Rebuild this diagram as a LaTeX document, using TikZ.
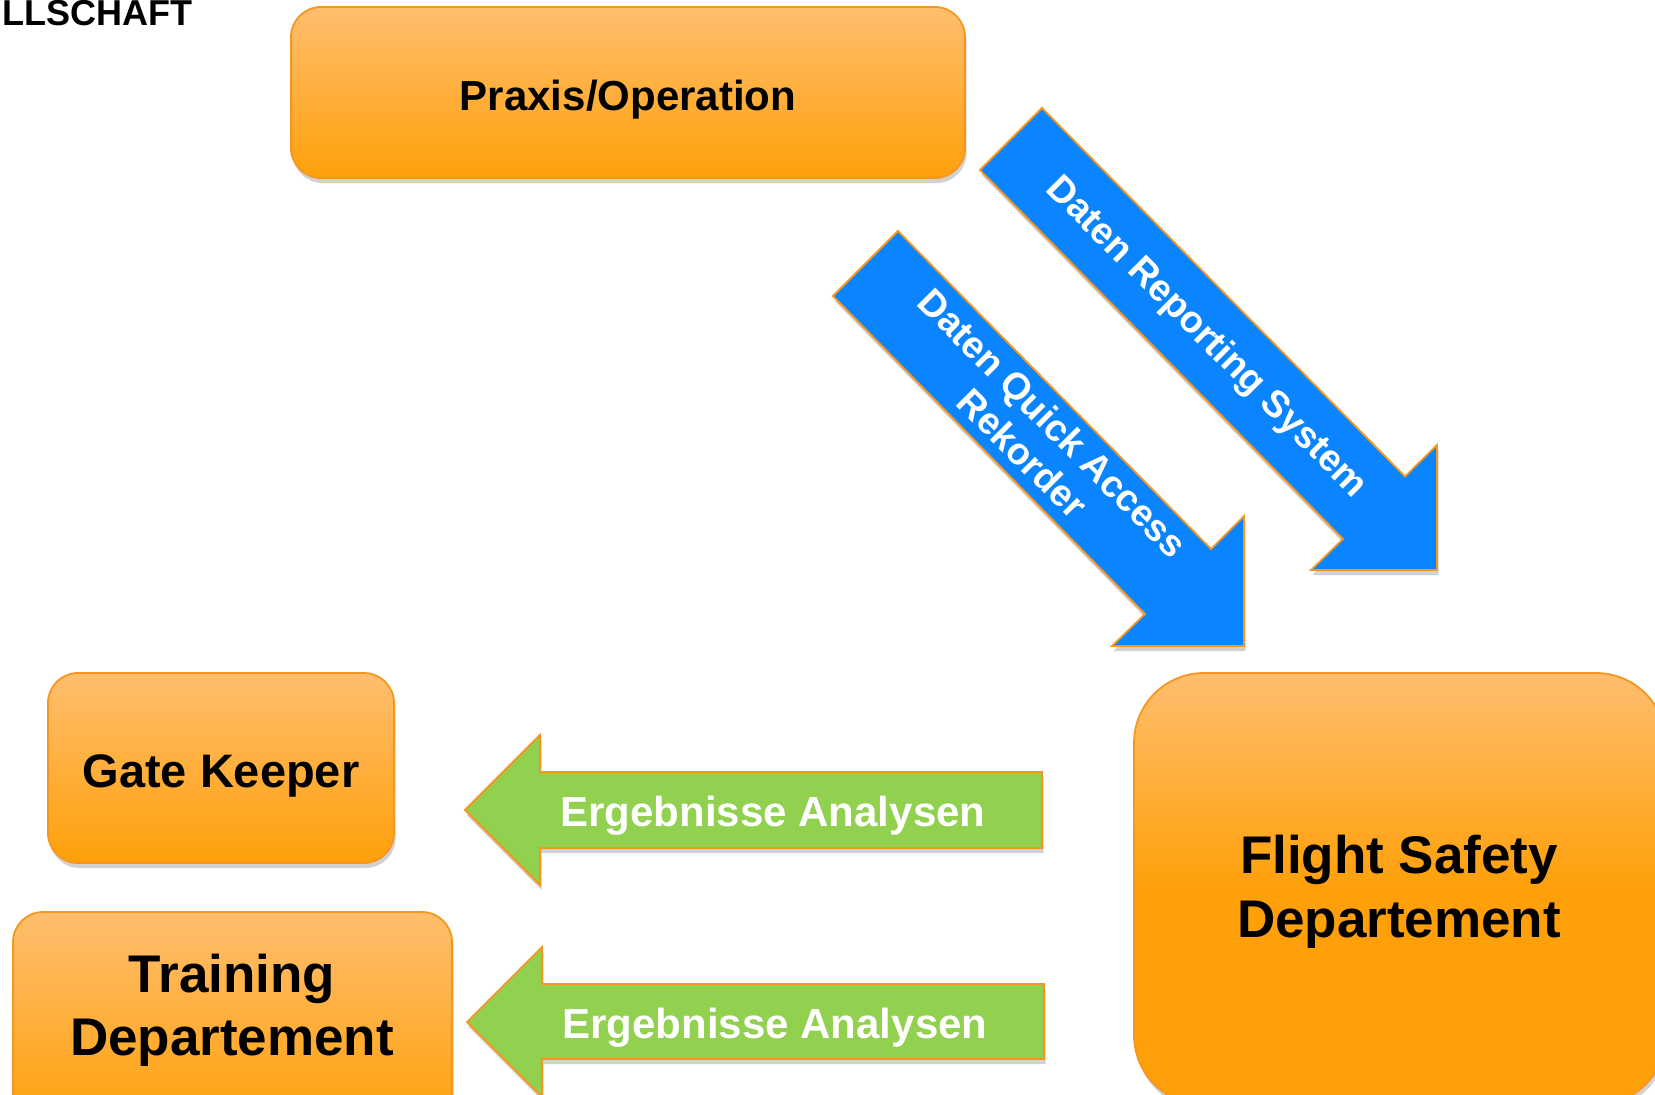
\documentclass[tikz,border=0pt]{standalone}
\usepackage{fontspec}
\setmainfont{Liberation Sans}
\usetikzlibrary{shadows}
\definecolor{orTop}{RGB}{255,190,110}
\definecolor{orBot}{RGB}{255,160,10}
\definecolor{orLine}{RGB}{247,150,30}
\definecolor{arBlue}{RGB}{10,132,255}
\definecolor{arGreen}{RGB}{146,208,80}
\begin{document}
\begin{tikzpicture}[x=0.5pt,y=-0.5pt,
  shad/.style={drop shadow={shadow xshift=0.8pt,shadow yshift=-2.5pt,opacity=0.18,fill=black}},
  obox/.style={rectangle, rounded corners=15pt, draw=orLine, line width=0.9pt,
               top color=orTop, bottom color=orBot, shad, inner sep=0pt},
  blk/.style={inner sep=0pt, text=black},
  wht/.style={inner sep=0pt, text=white},
  barrow/.style={fill=arBlue, draw=orLine, line width=0.9pt, line join=miter, shad},
  garrow/.style={fill=arGreen, draw=orLine, line width=0.9pt, line join=miter, shad},
]
\useasboundingbox (0,0) rectangle (1655,1094);

% header fragment
\node[blk, anchor=base east, font=\bfseries\fontsize{18}{21}\selectfont] (hdr) at (193,25) {LLSCHAFT};

% boxes
\node[obox, minimum width=337pt, minimum height=85.5pt] (praxis) at (628,92.5) {};
\node[blk, anchor=base, font=\bfseries\fontsize{21}{25}\selectfont] (praxisT) at (628,110) {Praxis/Operation};

\node[obox, minimum width=173pt, minimum height=95pt] (gate) at (221,768) {};
\node[blk, anchor=base, font=\bfseries\fontsize{23.5}{28}\selectfont] (gateT) at (221,787) {Gate Keeper};

\node[obox, minimum width=219.5pt, minimum height=109pt] (train) at (232.5,1021) {};
\node[blk, align=center, font=\bfseries\fontsize{26.5}{31.5}\selectfont] (trainT) at (232,1010.5) {Training\\Departement};

\node[obox, rounded corners=35pt, middle color=orBot, minimum width=266pt, minimum height=216pt] (flight) at (1400,889) {};
\node[blk, align=center, font=\bfseries\fontsize{26.5}{32}\selectfont] (flightT) at (1399,891.5) {Flight Safety\\Departement};

% blue arrows
\draw[barrow] (1042,108) -- (1405,476.5) -- (1437,445) -- (1437,570) -- (1311,570) -- (1343,539) -- (980,170) -- cycle;
\node[wht, rotate=-45, font=\bfseries\fontsize{18.8}{22}\selectfont] (repT) at (1206,338) {Daten Reporting System};

\draw[barrow] (898,231) -- (1211,549) -- (1244,516) -- (1244,646) -- (1112,646) -- (1145,614) -- (833,296) -- cycle;
\node[wht, rotate=-45, align=center, font=\bfseries\fontsize{18.8}{21.5}\selectfont] (qarT) at (1038,438) {Daten Quick Access\\Rekorder};

% green arrows
\draw[garrow] (465,810) -- (540,735) -- (540,772) -- (1042,772) -- (1042,848) -- (540,848) -- (540,885) -- cycle;
\node[wht, anchor=base, font=\bfseries\fontsize{21}{25}\selectfont] (erg1) at (773,826) {Ergebnisse Analysen};

\draw[garrow] (467,1022) -- (542,947) -- (542,984) -- (1044,984) -- (1044,1059) -- (542,1059) -- (542,1097) -- cycle;
\node[wht, anchor=base, font=\bfseries\fontsize{21}{25}\selectfont] (erg2) at (775,1038) {Ergebnisse Analysen};
\end{tikzpicture}
\end{document}
